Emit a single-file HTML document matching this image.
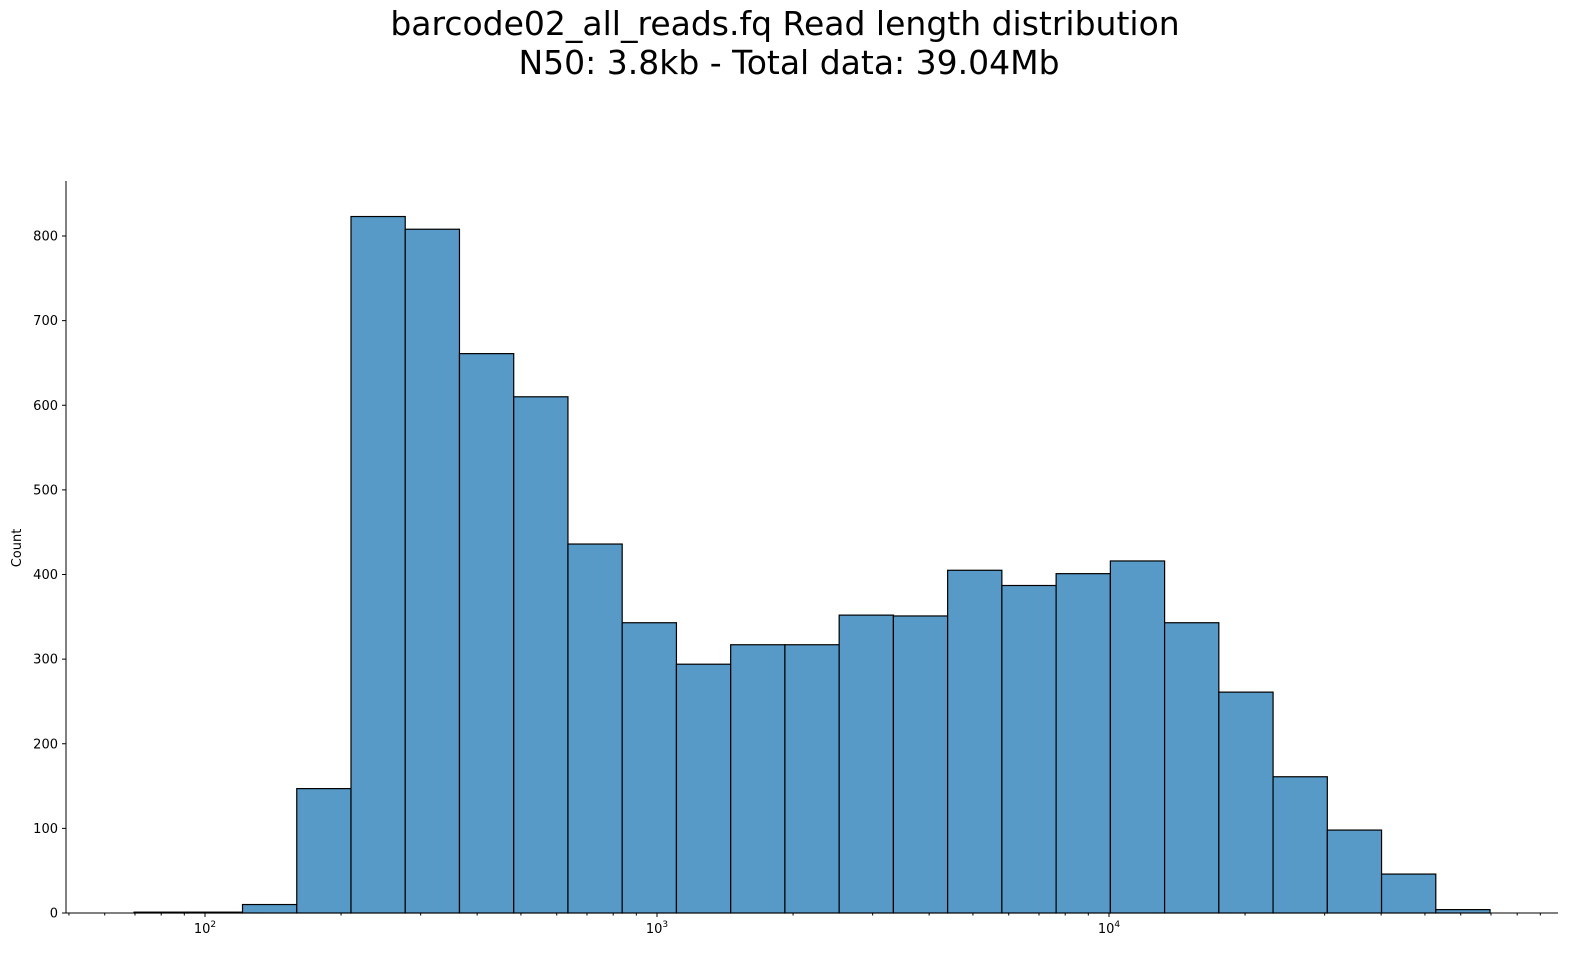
<!DOCTYPE html>
<html><head><meta charset="utf-8"><style>
body{margin:0;background:#fff;font-family:"Liberation Sans","DejaVu Sans",sans-serif}
svg text{font-family:"DejaVu Sans","Liberation Sans",sans-serif}
</style></head><body>
<svg id="chart" width="1589" height="964" xmlns="http://www.w3.org/2000/svg">
<text x="785" y="35" font-size="33" text-anchor="middle">barcode02_all_reads.fq Read length distribution</text>
<text x="789" y="74" font-size="33" text-anchor="middle">N50: 3.8kb - Total data: 39.04Mb</text>
<text transform="translate(21,548) rotate(-90)" font-size="13" text-anchor="middle">Count</text>
<g id="bars"></g><g id="axes"></g>
</svg>
<script>
const binStartLog = 1.843;
const binWidthLog = 0.12;
const counts = [1,1,10,147,823,808,661,610,436,343,294,317,317,352,351,405,387,401,416,343,261,161,98,46,4];
const yTicks = [0,100,200,300,400,500,600,700,800];
const xMajor = [2,3,4];
const NS="http://www.w3.org/2000/svg";
const X0=66,X1=1558,Y0=913,YT=181;
const xs=l=>205+(l-2)*452;
const ys=v=>913-v*(677/800);
const bars=document.getElementById('bars'),axes=document.getElementById('axes');
function mk(tag,attrs,parent){const e=document.createElementNS(NS,tag);for(const k in attrs)e.setAttribute(k,attrs[k]);parent.appendChild(e);return e;}
counts.forEach((c,i)=>{
  const l=binStartLog+i*binWidthLog;
  const x=xs(l),w=xs(l+binWidthLog)-x;
  const r=mk('rect',{x:x,y:ys(c),width:w,height:Y0-ys(c),fill:'#5799c7',stroke:'#000','stroke-width':1.2},bars);
  
  
});
let s=mk('line',{x1:X0,y1:YT,x2:X0,y2:Y0,stroke:'#000','stroke-width':1},axes);


s=mk('line',{x1:X0,y1:Y0,x2:X1,y2:Y0,stroke:'#000','stroke-width':1},axes);


yTicks.forEach(v=>{
  const y=ys(v);
  mk('line',{x1:X0-4,y1:y,x2:X0,y2:y,stroke:'#000'},axes);
  const t=mk('text',{x:X0-8,y:y+4.5,'font-size':13,'text-anchor':'end'},axes);
  t.textContent=v;
  
  
});
for(let d=1;d<=4;d++){for(let m=1;m<10;m++){
  const l=d+Math.log10(m);const x=xs(l);
  if(x<X0||x>X1)continue;
  mk('line',{x1:x,y1:Y0,x2:x,y2:Y0+(m==1?4:2.5),stroke:'#000'},axes);
}}
xMajor.forEach(p=>{
  const x=xs(p);
  const t=mk('text',{x:x,y:Y0+20,'font-size':13,'text-anchor':'middle'},axes);
  t.innerHTML='10<tspan dy="-6" font-size="9">'+p+'</tspan>';
  
  
});
</script>
</body></html>
